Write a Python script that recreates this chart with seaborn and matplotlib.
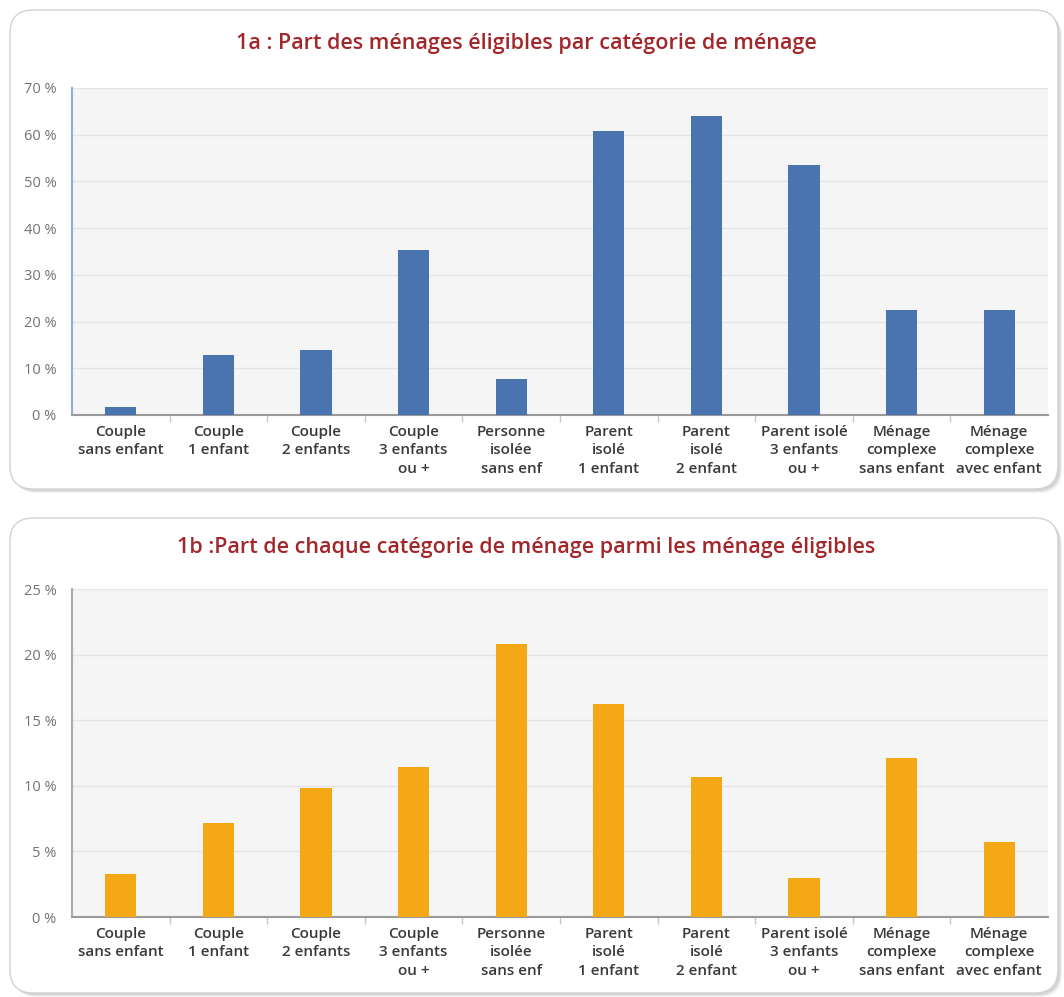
import matplotlib
matplotlib.use("Agg")
import matplotlib.pyplot as plt
import seaborn as sns
import pandas as pd
from matplotlib.patches import FancyBboxPatch
from matplotlib.ticker import FixedLocator, FuncFormatter

categories = [
    "Couple\nsans enfant", "Couple\n1 enfant", "Couple\n2 enfants",
    "Couple\n3 enfants\nou +", "Personne\nisolée\nsans enf",
    "Parent\nisolé\n1 enfant", "Parent\nisolé\n2 enfant",
    "Parent isolé\n3 enfants\nou +", "Ménage\ncomplexe\nsans enfant",
    "Ménage\ncomplexe\navec enfant",
]
values_1a = [1.8, 12.9, 14.0, 35.4, 7.6, 60.9, 63.9, 53.6, 22.4, 22.4]
values_1b = [3.3, 7.2, 9.8, 11.4, 20.8, 16.2, 10.7, 3.0, 12.1, 5.7]
title_1a = "1a : Part des ménages éligibles par catégorie de ménage"
title_1b = "1b :Part de chaque catégorie de ménage parmi les ménage éligibles"

sns.set_theme(style="white")
plt.rcParams["font.family"] = ["Open Sans", "DejaVu Sans"]

W, H = 1064, 997
fig = plt.figure(figsize=(W / 100, H / 100), dpi=100)
fig.patch.set_facecolor("white")


def px_box(x0, y0, x1, y1):
    return (x0 / W, 1 - y1 / H, (x1 - x0) / W, (y1 - y0) / H)


def panel(x0, y0, x1, y1):
    bx, by, bw, bh = px_box(x0, y0, x1, y1)
    for off, a in [(4, 0.10), (3, 0.12), (2, 0.15)]:
        sh = FancyBboxPatch((bx + off / W, by - off / H), bw, bh,
                            boxstyle="round,pad=0,rounding_size=0.022",
                            transform=fig.transFigure, facecolor="#808080",
                            edgecolor="none", alpha=a, zorder=-3,
                            mutation_aspect=W / H)
        fig.patches.append(sh)
    box = FancyBboxPatch((bx, by), bw, bh,
                         boxstyle="round,pad=0,rounding_size=0.022",
                         transform=fig.transFigure, facecolor="white",
                         edgecolor="#d2d2d2", linewidth=1.0, zorder=-2,
                         mutation_aspect=W / H)
    fig.patches.append(box)


panel(10, 10, 1058, 489)
panel(10, 518, 1058, 993)


def draw(ax_px, values, color, ymax, step, left_color, title, title_y):
    ax = fig.add_axes(px_box(*ax_px))
    df = pd.DataFrame({"cat": categories, "val": values})
    sns.barplot(data=df, x="cat", y="val", color=color, width=0.32,
                saturation=1, linewidth=0, ax=ax, zorder=3)
    ax.set_facecolor("#f5f5f5")
    ax.set_ylim(0, ymax)
    ax.set_xlim(-0.5, len(categories) - 0.5)
    ax.yaxis.set_major_locator(FixedLocator(list(range(0, ymax + 1, step))))
    ax.yaxis.set_major_formatter(FuncFormatter(lambda v, p: f"{int(v)} %"))
    ax.grid(axis="y", color="#e4e4e4", linewidth=1.0, zorder=0)
    ax.set_axisbelow(True)
    ax.set_xlabel("")
    ax.set_ylabel("")
    for s in ["top", "right"]:
        ax.spines[s].set_visible(False)
    ax.spines["bottom"].set_color("#9a9a9a")
    ax.spines["bottom"].set_linewidth(1.5)
    ax.spines["left"].set_color(left_color)
    ax.spines["left"].set_linewidth(1.5)
    ax.tick_params(axis="y", length=0, pad=11, labelsize=10.5, labelcolor="#737373")
    ax.tick_params(axis="x", which="major", length=0, pad=7)
    ax.set_xticks(range(len(categories)))
    ax.set_xticklabels(categories, fontsize=11, fontweight="semibold",
                       color="#3a3a3a", linespacing=1.4)
    ax.xaxis.set_minor_locator(FixedLocator([i + 0.5 for i in range(len(categories) - 1)]))
    ax.tick_params(axis="x", which="minor", length=5, width=1, color="#c8c8c8",
                   direction="out", bottom=True)
    fig.text(526 / W, 1 - title_y / H, title, ha="center", va="center",
             fontsize=15.5, fontweight="semibold", color="#a3262a")
    return ax


draw((72, 88, 1048, 415), values_1a, "#4a74b0", 70, 10, "#8eaede", title_1a, 43)
draw((72, 589, 1048, 917), values_1b, "#f4a816", 25, 5, "#ababab", title_1b, 547)

fig.savefig("out.png", dpi=100, facecolor="white")
